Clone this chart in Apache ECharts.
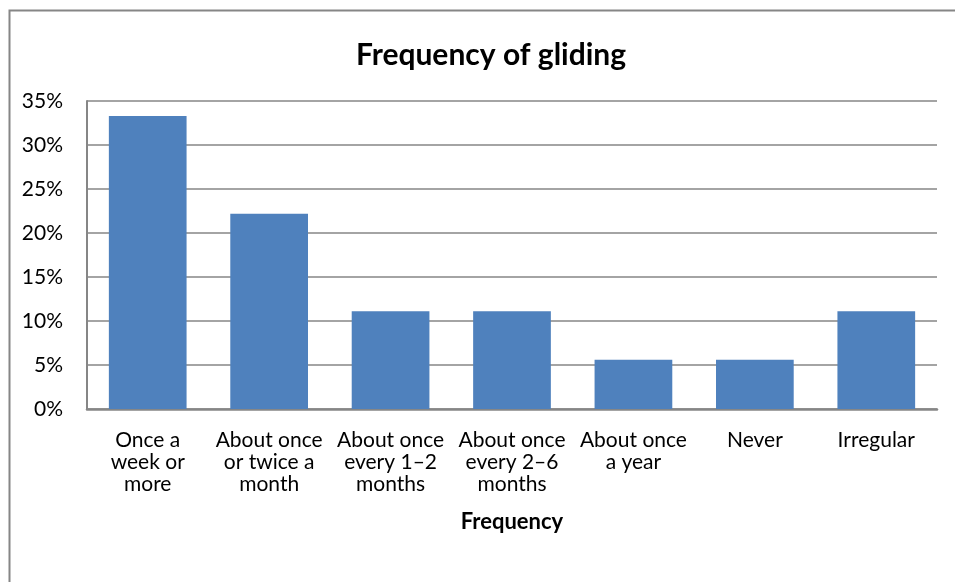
<!DOCTYPE html>
<html>
<head>
<meta charset="utf-8">
<script src="https://cdn.jsdelivr.net/npm/echarts@6/dist/echarts.min.js"></script>
<style>html,body{margin:0;padding:0;background:#fff}#c{width:955px;height:582px}</style>
</head>
<body>
<div id="c"></div>
<script>
var titleText = "Frequency of gliding";
var axisName = "Frequency";
var categories = ["Once a\nweek or\nmore", "About once\nor twice a\nmonth", "About once\nevery 1\u20132\nmonths", "About once\nevery 2\u20136\nmonths", "About once\na year", "Never", "Irregular"];
var values = [33.3, 22.2, 11.1, 11.1, 5.6, 5.6, 11.1];
var yMin = 0, yMax = 35, yStep = 5;

var FONT = "Lato";
var chart = echarts.init(document.getElementById('c'));
chart.setOption({
  animation: false,
  backgroundColor: '#fff',
  graphic: [{
    type: 'rect', left: 7, top: 8,
    shape: {width: 1000, height: 1000},
    style: {fill: 'none', stroke: '#868686', lineWidth: 2},
    silent: true
  }],
  title: {
    text: titleText, left: 486, top: 35, textAlign: 'center',
    textStyle: {fontFamily: FONT, fontWeight: 'bold', fontSize: 30, color: '#000'}
  },
  grid: {left: 87, right: 18, top: 101, bottom: 173, containLabel: false},
  xAxis: {
    type: 'category', data: categories,
    name: axisName, nameLocation: 'middle', nameGap: 102,
    nameTextStyle: {fontFamily: FONT, fontWeight: 'bold', fontSize: 22, color: '#000'},
    axisLine: {lineStyle: {color: '#868686', width: 2.5}},
    axisTick: {show: false},
    axisLabel: {interval: 0, margin: 20, fontFamily: FONT, fontSize: 21, lineHeight: 22, color: '#000'}
  },
  yAxis: {
    type: 'value', min: yMin, max: yMax, interval: yStep,
    axisLine: {show: true, lineStyle: {color: '#868686', width: 2}},
    axisTick: {show: false},
    splitLine: {lineStyle: {color: '#868686', width: 1.5}},
    axisLabel: {margin: 24, fontFamily: FONT, fontSize: 21, color: '#000', formatter: '{value}%'}
  },
  series: [{
    type: 'bar', data: values, barCategoryGap: '36%',
    itemStyle: {color: '#4F81BD'}
  }]
});
</script>
</body>
</html>
